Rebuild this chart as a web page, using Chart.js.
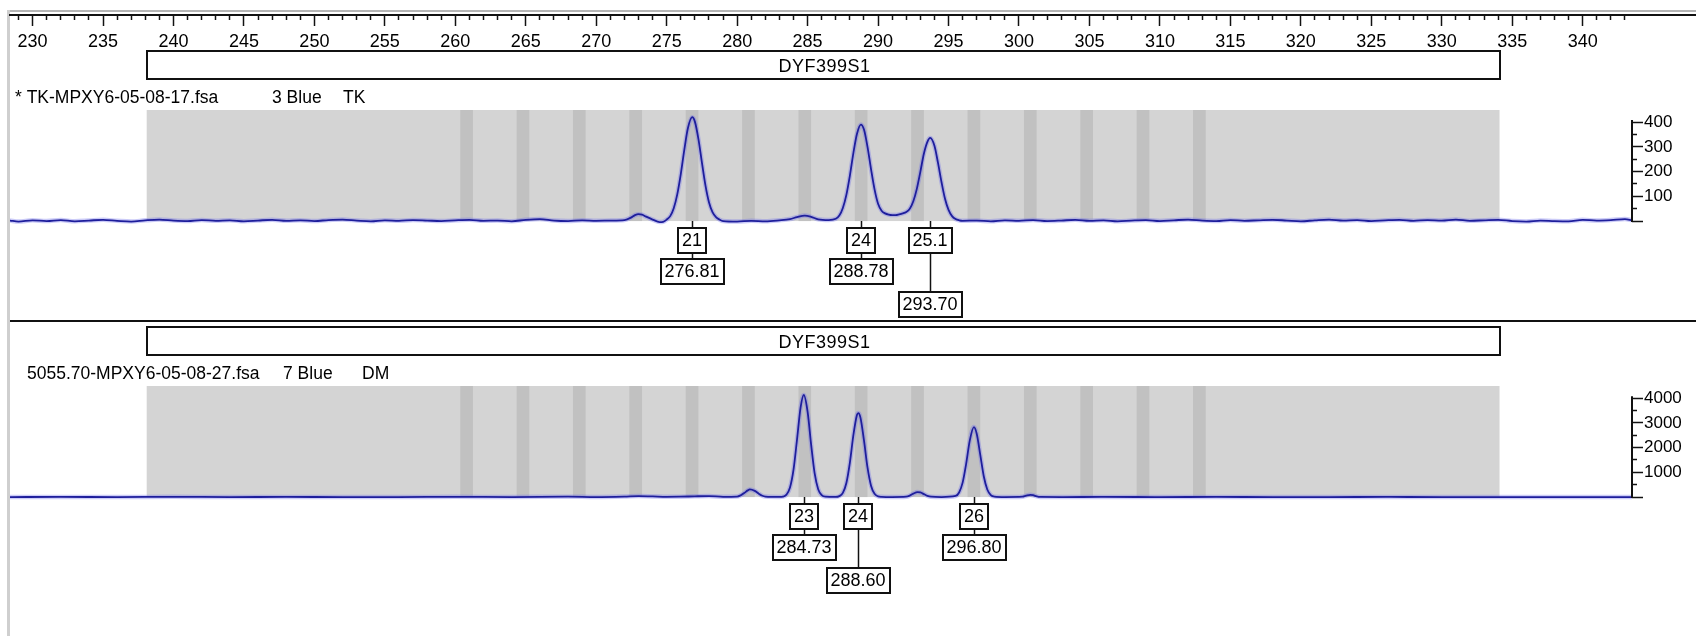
<!DOCTYPE html>
<html>
<head>
<meta charset="utf-8">
<title>DYF399S1</title>
<script src="https://cdn.jsdelivr.net/npm/chart.js@4.4.1/dist/chart.umd.min.js"></script>
<style>
  body { margin: 0; background: #fff; }
  #wrap { position: relative; width: 1696px; height: 636px; overflow: hidden; background: #fff; }
  #wrap canvas { position: absolute; left: 0; top: 0; }
  .frame { position: absolute; }
</style>
</head>
<body>
<div id="wrap">
  <div class="frame" style="left:7px;top:10px;width:1689px;height:2px;background:#b4b4b4"></div>
  <div class="frame" style="left:7px;top:10px;width:3px;height:626px;background:#cfcfcf"></div>
  <div class="frame" style="left:1632px;top:14px;width:64px;height:2px;background:#111"></div>
  <div class="frame" style="left:10px;top:320px;width:1686px;height:2px;background:#111"></div>
  <canvas id="ruler" width="1696" height="636"></canvas>
  <canvas id="panel1" width="1696" height="636"></canvas>
  <canvas id="panel2" width="1696" height="636"></canvas>
</div>
<script>
// size axis (bp)
const X_MIN = 228.4;
const X_MAX = 343.5;
const rulerLabels = [230, 235, 240, 245, 250, 255, 260, 265, 270, 275, 280, 285, 290, 295, 300, 305, 310, 315, 320, 325, 330, 335, 340];
const rulerFirst = 229;
const rulerLast = 343;

// marker + bins
const markerName = "DYF399S1";
const markerRange = [238.1, 334.1];
const binSizes = [260.8, 264.8, 268.8, 272.8, 276.8, 280.8, 284.8, 288.8, 292.8, 296.8, 300.8, 304.8, 308.8, 312.8];

// sample 1
const sample1 = ["* TK-MPXY6-05-08-17.fsa", "3 Blue", "TK"];
const sizes1 = [
  228.4, 229, 230, 231, 232, 233, 234, 235, 236, 237, 238, 239, 240, 241, 242, 243, 244, 245, 246, 247,
  248, 249, 250, 251, 252, 253, 254, 255, 256, 257, 258, 259, 260, 261, 262, 263, 264, 265, 266, 267,
  268, 269, 270, 271, 272.0, 272.5, 272.75, 273.0, 273.25, 273.5, 274.0, 274.5, 274.75,
  275.0, 275.25, 275.5, 275.75, 276.0, 276.25, 276.5, 276.81, 277.0, 277.25, 277.5, 277.75, 278.0, 278.25, 278.5, 278.75, 279.0,
  280, 281, 282, 283, 283.75, 284.25, 284.8, 285.25, 285.75, 286.5,
  287.0, 287.25, 287.5, 287.75, 288.0, 288.25, 288.5, 288.78, 289.0, 289.25, 289.5, 289.75, 290.0,
  290.25, 290.5, 290.75, 291.0, 291.25, 291.5, 291.75,
  292.0, 292.25, 292.5, 292.75, 293.0, 293.25, 293.5, 293.7, 294.0, 294.25, 294.5, 294.75, 295.0, 295.25, 295.5, 295.75, 296.0,
  297, 298, 299, 300, 301, 302, 303, 304, 305, 306, 307, 308, 309, 310, 311, 312, 313, 314, 315, 316,
  317, 318, 319, 320, 321, 322, 323, 324, 325, 326, 327, 328, 329, 330, 331, 332, 333, 334, 335, 336,
  337, 338, 339, 340, 341, 342, 343, 343.5
];
const rfu1 = [
  2, -2, 3, 0, 4, -1, 2, 5, 1, -2, 3, 6, 2, 0, 4, 1, 3, -1, 2, 5,
  1, 3, 0, 4, 6, 2, -1, 3, 1, 4, 2, 0, 3, 5, 1, 2, -1, 5, 8, 2,
  0, 3, 1, 2, 4, 15, 24, 28, 26, 19, 6, -4, -3,
  6, 20, 52, 108, 190, 288, 374, 420, 402, 332, 236, 144, 76, 36, 16, 6, 0,
  -2, 1, -1, 3, 8, 16, 22, 17, 7, 4,
  9, 22, 53, 106, 184, 276, 352, 390, 370, 300, 210, 128, 70,
  42, 31, 26, 24, 24, 27, 31,
  37, 50, 80, 130, 199, 272, 320, 336, 304, 236, 158, 90, 45, 20, 8, 3, 1,
  2, -1, 3, 1, 4, 0, 2, 5, 1, 3, -1, 2, 4, 0, 3, 6, 2, 0, 4, 1,
  3, 5, 2, -1, 3, 6, 2, 4, 0, 3, 5, 1, 4, 2, 6, 1, 3, 5, 0, -2,
  2, 0, -1, 5, 2, 4, 8, 3
];
const callAlleles1 = ["21", "24", "25.1"];
const callSizes1 = [276.81, 288.78, 293.70];
const yTicks1 = [0, 50, 100, 150, 200, 250, 300, 350, 400];
const yLabels1 = [100, 200, 300, 400];
const yRange1 = [-20, 449];

// sample 2
const sample2 = ["5055.70-MPXY6-05-08-27.fsa", "7 Blue", "DM"];
const sizes2 = [
  228.4, 232, 236, 240, 244, 248, 252, 256, 260, 264, 268, 270, 272, 273, 274, 275, 276, 277, 278, 279,
  280.0, 280.25, 280.5, 280.75, 280.9, 281.25, 281.5, 281.75, 282.0, 283.0,
  283.25, 283.5, 283.75, 284.0, 284.25, 284.5, 284.73, 285.0, 285.25, 285.5, 285.75, 286.0, 286.25,
  287.0, 287.25, 287.5, 287.75, 288.0, 288.25, 288.5, 288.6, 288.75, 289.0, 289.25, 289.5, 289.75, 290.0, 290.25,
  291.0, 292.0, 292.25, 292.5, 292.8, 293.0, 293.25, 293.5, 293.75, 294.5,
  295.5, 295.75, 296.0, 296.25, 296.5, 296.8, 297.0, 297.25, 297.5, 297.75, 298.0, 298.25,
  299, 300.25, 300.5, 300.8, 301.0, 301.25, 301.5, 303, 306, 310, 314, 318, 322, 326, 330, 334, 338, 343.5
];
const rfu2 = [
  0, 5, 0, 10, 0, 5, 0, 0, 10, 0, 15, 0, 20, 40, 25, 10, 15, 30, 40, 10,
  20, 70, 160, 270, 310, 250, 150, 65, 20, 5,
  18, 98, 385, 1107, 2338, 3622, 4130, 3450, 2118, 955, 317, 77, 14,
  5, 38, 171, 571, 1398, 2514, 3318, 3400, 3216, 2290, 1198, 459, 130, 27, 8,
  0, 15, 60, 140, 200, 185, 120, 50, 15, 0,
  44, 186, 583, 1341, 2266, 2830, 2563, 1717, 844, 305, 81, 18,
  0, 15, 55, 90, 75, 30, 5, 0, 5, 0, 5, 0, 0, 5, 0, 0, 0, 0
];
const callAlleles2 = ["23", "24", "26"];
const callSizes2 = [284.73, 288.60, 296.80];
const yTicks2 = [0, 500, 1000, 1500, 2000, 2500, 3000, 3500, 4000];
const yLabels2 = [1000, 2000, 3000, 4000];
const yRange2 = [-200, 4494];

const FONT = "'Liberation Sans', Arial, sans-serif";
const TRACE = "#1e1e9c";

Chart.defaults.font.family = FONT;
Chart.defaults.font.size = 17;
Chart.defaults.color = "#000";

// ruler on top
const rulerTicks = [];
for (let v = rulerFirst; v <= rulerLast; v++) rulerTicks.push(v);

new Chart(document.getElementById("ruler"), {
  type: "line",
  data: { datasets: [] },
  options: {
    responsive: false,
    animation: false,
    devicePixelRatio: 1,
    layout: { padding: { left: 10, right: 64, top: 10, bottom: 0 } },
    plugins: { legend: { display: false }, tooltip: { enabled: false } },
    scales: {
      x: {
        type: "linear",
        position: "bottom",
        min: X_MIN,
        max: X_MAX,
        afterFit: (s) => { s.height = 621; },
        afterBuildTicks: (s) => { s.ticks = rulerTicks.map((v) => ({ value: v })); },
        border: { color: "#111", width: 2 },
        grid: {
          drawOnChartArea: false,
          tickLength: 11,
          tickWidth: 1.5,
          tickColor: "#111",
          tickBorderDash: (ctx) => (ctx.tick && rulerLabels.includes(ctx.tick.value) ? [] : [4, 40])
        },
        ticks: {
          autoSkip: false,
          maxRotation: 0,
          padding: 5,
          color: "#000",
          font: { size: 18 },
          callback: (v) => (rulerLabels.includes(v) ? String(v) : "")
        }
      },
      y: { display: false, min: 0, max: 1 }
    }
  }
});

function drawBox(ctx, text, cx, top, h) {
  const w = Math.round(ctx.measureText(text).width) + 10;
  const left = Math.round(cx - w / 2);
  ctx.fillStyle = "#fff";
  ctx.fillRect(left, top, w, h);
  ctx.lineWidth = 2;
  ctx.strokeStyle = "#111";
  ctx.strokeRect(left + 1, top + 1, w - 2, h - 2);
  ctx.fillStyle = "#000";
  ctx.textAlign = "center";
  ctx.textBaseline = "middle";
  ctx.fillText(text, cx, top + h / 2 + 1);
}

function makePanel(id, sample, textX, sizes, rfu, alleles, calls, yTicks, yLabels, yRange, padTop, padBottom) {
  const decor = {
    id: "decor",
    beforeDatasetsDraw(chart) {
      const { ctx, chartArea, scales } = chart;
      const x = scales.x, y = scales.y;
      const base = y.getPixelForValue(0);
      const l = x.getPixelForValue(markerRange[0]);
      const r = x.getPixelForValue(markerRange[1]);
      ctx.save();
      ctx.fillStyle = "#d4d4d4";
      ctx.fillRect(l, chartArea.top, r - l, base - chartArea.top);
      ctx.fillStyle = "#c1c1c1";
      binSizes.forEach((b) => {
        const bl = x.getPixelForValue(b - 0.45);
        const br = x.getPixelForValue(b + 0.45);
        ctx.fillRect(bl, chartArea.top, br - bl, base - chartArea.top);
      });
      ctx.restore();
    },
    afterDraw(chart) {
      const { ctx, chartArea, scales } = chart;
      const x = scales.x, y = scales.y;
      const base = Math.round(y.getPixelForValue(0));
      const l = Math.round(x.getPixelForValue(markerRange[0]));
      const r = Math.round(x.getPixelForValue(markerRange[1]));
      ctx.save();

      // marker box
      const boxTop = chartArea.top - 59;
      ctx.lineWidth = 2;
      ctx.strokeStyle = "#111";
      ctx.strokeRect(l, boxTop, r - l, 28);
      ctx.font = "18px " + FONT;
      if ("letterSpacing" in ctx) ctx.letterSpacing = "0.5px";
      ctx.fillStyle = "#000";
      ctx.textAlign = "center";
      ctx.textBaseline = "middle";
      ctx.fillText(markerName, (l + r) / 2 + 1, boxTop + 16);
      if ("letterSpacing" in ctx) ctx.letterSpacing = "0px";

      // sample line
      ctx.font = "17.5px " + FONT;
      ctx.textAlign = "left";
      sample.forEach((t, i) => ctx.fillText(t, textX[i], chartArea.top - 12));

      // y axis line
      const ax = chartArea.right;
      ctx.lineWidth = 2;
      ctx.beginPath();
      ctx.moveTo(ax, base + 1);
      ctx.lineTo(ax, y.getPixelForValue(yTicks[yTicks.length - 1]) - 2);
      ctx.stroke();

      // allele calls, size boxes pushed down a row when they would collide
      ctx.font = "18px " + FONT;
      let prevRight = -1e9;
      calls.forEach((s, i) => {
        const px = Math.round(x.getPixelForValue(s));
        const sizeText = s.toFixed(2);
        const sw = Math.round(ctx.measureText(sizeText).width) + 10;
        const row = px - sw / 2 < prevRight + 12 ? 1 : 0;
        prevRight = px + sw / 2;
        const nameTop = base + 6;
        const sizeTop = base + (row ? 70 : 37);
        ctx.strokeStyle = "#111";
        ctx.lineWidth = 1.5;
        ctx.beginPath();
        ctx.moveTo(px + 0.5, base);
        ctx.lineTo(px + 0.5, sizeTop);
        ctx.stroke();
        drawBox(ctx, alleles[i], px, nameTop, 27);
        drawBox(ctx, sizeText, px, sizeTop, 27);
      });
      ctx.restore();
    }
  };

  const points = sizes.map((s, i) => ({ x: s, y: rfu[i] }));

  return new Chart(document.getElementById(id), {
    type: "line",
    data: {
      datasets: [
        { data: points, borderColor: TRACE, borderWidth: 1.8, pointRadius: 0, cubicInterpolationMode: "monotone", fill: false },
        { data: points, borderColor: "rgba(110,110,235,0.35)", borderWidth: 4.5, pointRadius: 0, cubicInterpolationMode: "monotone", fill: false }
      ]
    },
    options: {
      responsive: false,
      animation: false,
      devicePixelRatio: 1,
      layout: { padding: { left: 10, right: 0, top: padTop, bottom: padBottom } },
      plugins: { legend: { display: false }, tooltip: { enabled: false } },
      scales: {
        x: { type: "linear", display: false, min: X_MIN, max: X_MAX },
        y: {
          position: "right",
          min: yRange[0],
          max: yRange[1],
          afterFit: (s) => { s.width = 64; },
          afterBuildTicks: (s) => { s.ticks = yTicks.map((v) => ({ value: v })); },
          border: { display: false },
          grid: {
            drawOnChartArea: false,
            tickLength: 11,
            tickWidth: 1.5,
            tickColor: "#111",
            tickBorderDash: (ctx) => (ctx.tick && ctx.tick.value % (yTicks[2]) !== 0 ? [5, 40] : [])
          },
          ticks: {
            autoSkip: false,
            padding: 1,
            color: "#000",
            callback: (v) => (yLabels.includes(v) ? String(v) : "")
          }
        }
      }
    },
    plugins: [decor]
  });
}

makePanel("panel1", sample1, [15, 272, 343], sizes1, rfu1, callAlleles1, callSizes1, yTicks1, yLabels1, yRange1, 110, 410);
makePanel("panel2", sample2, [27, 283, 362], sizes2, rfu2, callAlleles2, callSizes2, yTicks2, yLabels2, yRange2, 386, 134);
</script>
</body>
</html>
